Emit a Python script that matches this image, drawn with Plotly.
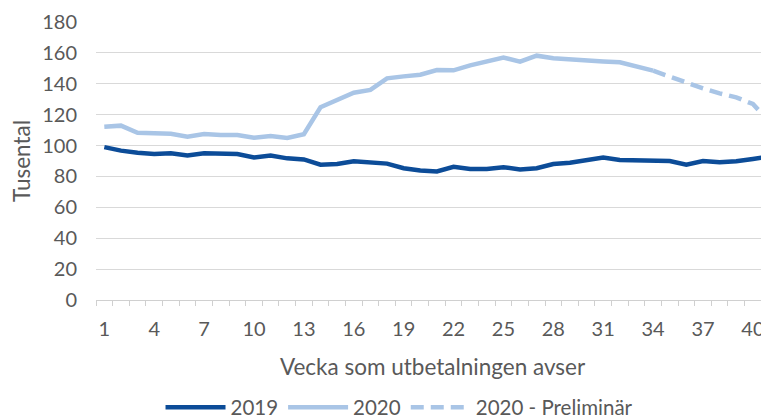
import plotly.graph_objects as go

weeks = list(range(1, 42))
tick_weeks = list(range(1, 42, 3))

v2019 = [99, 96.7, 95.4, 94.5, 95, 93.5, 95, 94.5, 94.5, 92.3,
         93.5, 91.7, 91, 87.6, 88, 89.8, 89.2, 88.3, 85.3, 83.8,
         83.2, 86.2, 84.8, 84.8, 86, 84.5, 85.3, 88, 88.9, 90.2,
         92.2, 90.7, 90.7, 90, 90, 87.6, 90, 89.2, 89.8, 91.3, 93]

weeks_2020 = list(range(1, 35))
v2020 = [112.2, 112.9, 108.3, 107.7, 107.7, 105.8, 107.5, 106.8, 106.8, 105.1,
         106.2, 104.9, 107.3, 124.8, 129.5, 134.2, 136, 143.5, 144.8, 145.9,
         148.9, 148.7, 151.9, 154.1, 157, 154.3, 158.2, 156.5, 155.8, 154.5,
         154.5, 153.9, 151.2, 148.5]

weeks_prel = list(range(34, 42))
v2020_prel = [148.5, 144.6, 140.3, 137, 133.8, 131.2, 126.9, 115.5]

y_ticks = list(range(0, 181, 20))

DARK = "#0C4C98"
LIGHT = "#A9C5E6"
TXT = "#595959"
FONT = "Lato"
FS_TICK = 20
FS_TITLE = 22.5
FS_LEG = 20.5

fig = go.Figure()
fig.add_trace(go.Scatter(x=weeks, y=v2019, mode="lines", name="2019",
                         line=dict(color=DARK, width=4.5)))
fig.add_trace(go.Scatter(x=weeks_2020, y=v2020, mode="lines", name="2020",
                         line=dict(color=LIGHT, width=4.5)))
fig.add_trace(go.Scatter(x=weeks_prel, y=v2020_prel, mode="lines", name="2020 - Preliminär",
                         line=dict(color=LIGHT, width=4.5, dash="13px,7px")))

# page body has an 8px margin, so the figure is sized/offset to compensate
fig.update_layout(
    width=761, height=411,
    margin=dict(l=87.5, r=0, t=14, b=118.5, autoexpand=False),
    paper_bgcolor="white", plot_bgcolor="white",
    font=dict(family=FONT, size=FS_TICK, color=TXT),
    showlegend=True,
    legend=dict(orientation="h", x=0.451, xanchor="center", y=-0.386, yanchor="middle",
                font=dict(size=FS_LEG, color=TXT), itemwidth=60, traceorder="normal"),
)
fig.update_xaxes(
    automargin=False,
    range=[0.5, 40.97], tickmode="array", tickvals=tick_weeks,
    ticktext=[str(t) for t in tick_weeks],
    showgrid=False, zeroline=False, showline=True, linecolor="#D0D0D0", linewidth=1,
    ticks="", ticklabelstandoff=11,
    minor=dict(tick0=0.5, dtick=1, ticks="outside", ticklen=5, tickcolor="#D0D0D0", showgrid=False),
    title=dict(text="Vecka som utbetalningen avser", font=dict(size=FS_TITLE, color=TXT), standoff=20),
)
fig.update_yaxes(
    automargin=False,
    range=[0, 180], tickmode="array", tickvals=y_ticks,
    showgrid=True, gridcolor="#D9D9D9", gridwidth=1, zeroline=False,
    ticks="", ticklabelstandoff=18,
    title=dict(text="Tusental", font=dict(size=FS_TITLE, color=TXT), standoff=12),
)

fig.write_html("out.html")
